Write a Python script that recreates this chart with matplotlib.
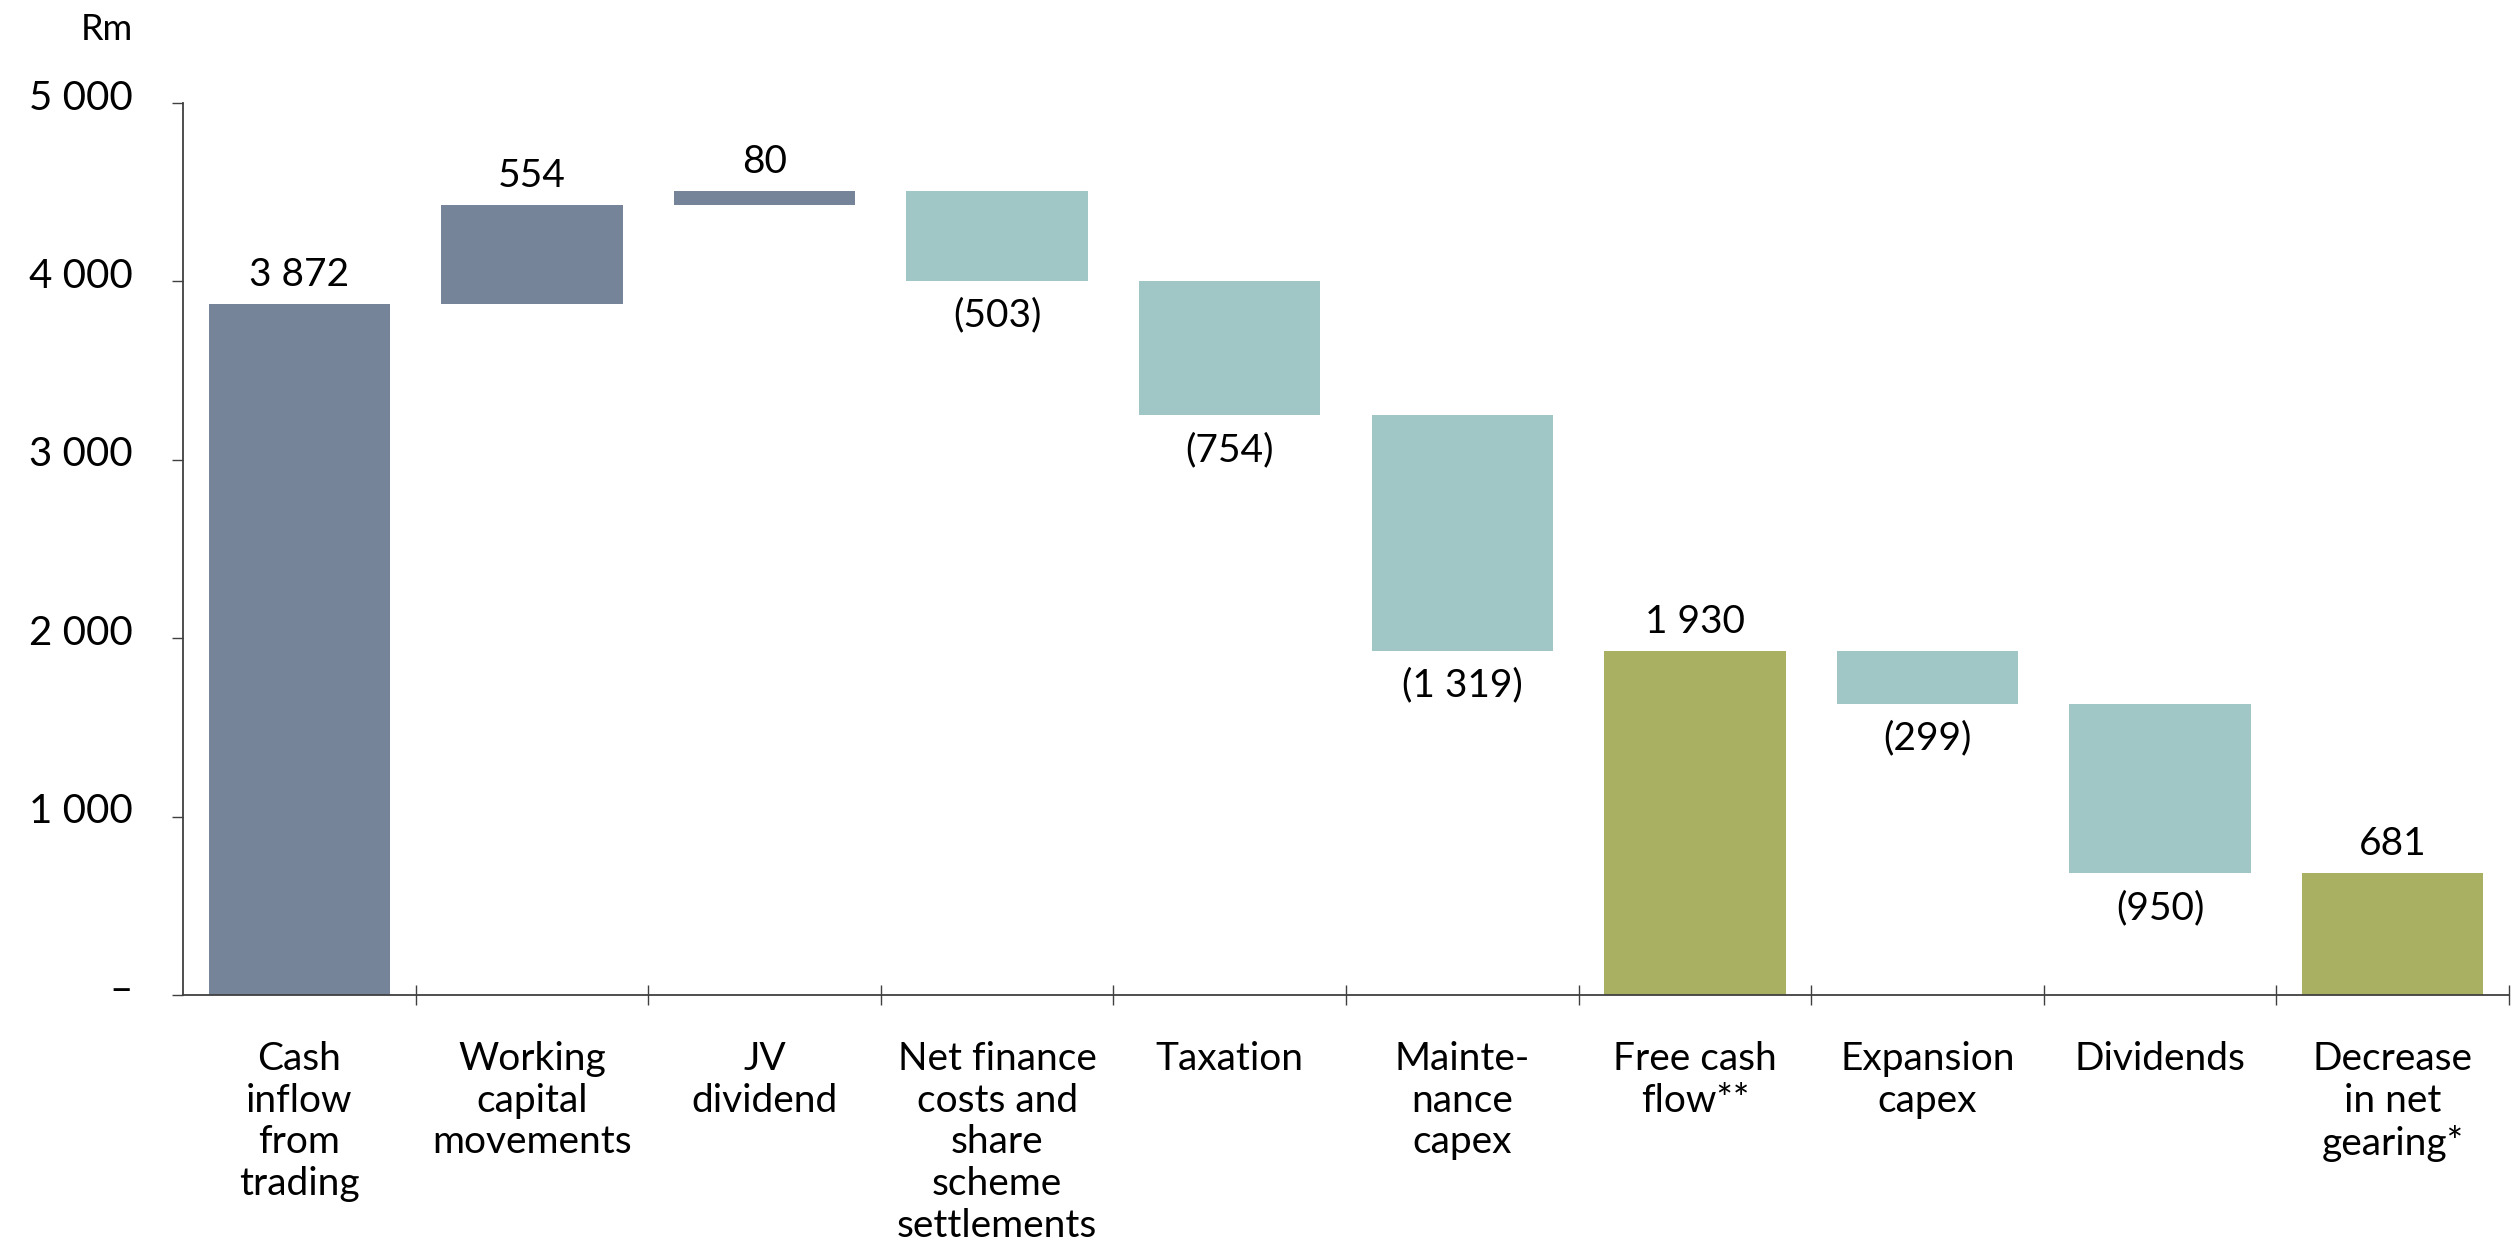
import matplotlib.pyplot as plt
import matplotlib.transforms as mtransforms
import numpy as np

plt.rcParams['font.family'] = ['Lato', 'DejaVu Sans']

# Données du graphique (Rm)
categories = ['Cash\ninflow\nfrom\ntrading', 'Working\ncapital\nmovements', 'JV\ndividend',
              'Net finance\ncosts and\nshare\nscheme\nsettlements', 'Taxation', 'Mainte-\nnance\ncapex',
              'Free cash\nflow**', 'Expansion\ncapex', 'Dividends', 'Decrease\nin net\ngearing*']
values = [3872, 554, 80, -503, -754, -1319, 1930, -299, -950, 681]
kinds = ['total', 'up', 'up', 'down', 'down', 'down', 'total', 'down', 'down', 'total']
y_ticks = [0, 1000, 2000, 3000, 4000, 5000]
y_tick_labels = ['–', '1 000', '2 000', '3 000', '4 000', '5 000']

colors = {'up': '#768499', 'down': '#A0C6C6', 'total': '#AAB062'}

# Calcul des bases des barres (cascade)
bottoms, heights = [], []
running = 0
for v, k in zip(values, kinds):
    if k == 'total':
        bottoms.append(0)
        heights.append(v)
        running = v
    else:
        running_new = running + v
        bottoms.append(min(running, running_new))
        heights.append(abs(v))
        running = running_new
bar_colors = [colors['up'] if i == 0 else colors[k] for i, k in enumerate(kinds)]

fig = plt.figure(figsize=(25.14, 12.52), dpi=100)
ax = fig.add_axes([0.0728, 0.2053, 0.9252, 0.7124])

x = np.arange(len(categories))
ax.bar(x, heights, bottom=bottoms, width=0.78, color=bar_colors)

# Étiquettes des valeurs
for xi, v, b, h in zip(x, values, bottoms, heights):
    txt = f"{abs(v):,}".replace(',', ' ')
    if v < 0:
        ax.annotate(f"({txt})", (xi, b), xytext=(0, -12), textcoords='offset points',
                    ha='center', va='top', fontsize=28)
    else:
        ax.annotate(txt, (xi, b + h), xytext=(0, 8), textcoords='offset points',
                    ha='center', va='bottom', fontsize=28)

ax.set_xlim(-0.5, len(categories) - 0.5)
ax.set_ylim(0, 5000)
ax.set_yticks(y_ticks)
ax.set_yticklabels(y_tick_labels, fontsize=29)
ax.set_xticks(x)
ax.set_xticklabels(categories, fontsize=28, linespacing=1.2)
ax.set_xticks(np.arange(len(categories)) + 0.5, minor=True)
ax.tick_params(axis='x', which='major', length=0, pad=33)
ax.tick_params(axis='x', which='minor', direction='inout', length=14, width=1, color='#404040')
ax.tick_params(axis='y', length=8, width=1, color='#404040', pad=28)

offset = mtransforms.ScaledTranslation(0, 6 / 72, fig.dpi_scale_trans)
for lab in ax.get_yticklabels():
    lab.set_transform(lab.get_transform() + offset)

for s in ['top', 'right']:
    ax.spines[s].set_visible(False)
for s in ['left', 'bottom']:
    ax.spines[s].set_color('#404040')
    ax.spines[s].set_linewidth(1.3)

fig.text(133 / 2514, 1 - 30 / 1252, 'Rm', ha='right', va='center', fontsize=26)

plt.savefig('out.png', dpi=100)
